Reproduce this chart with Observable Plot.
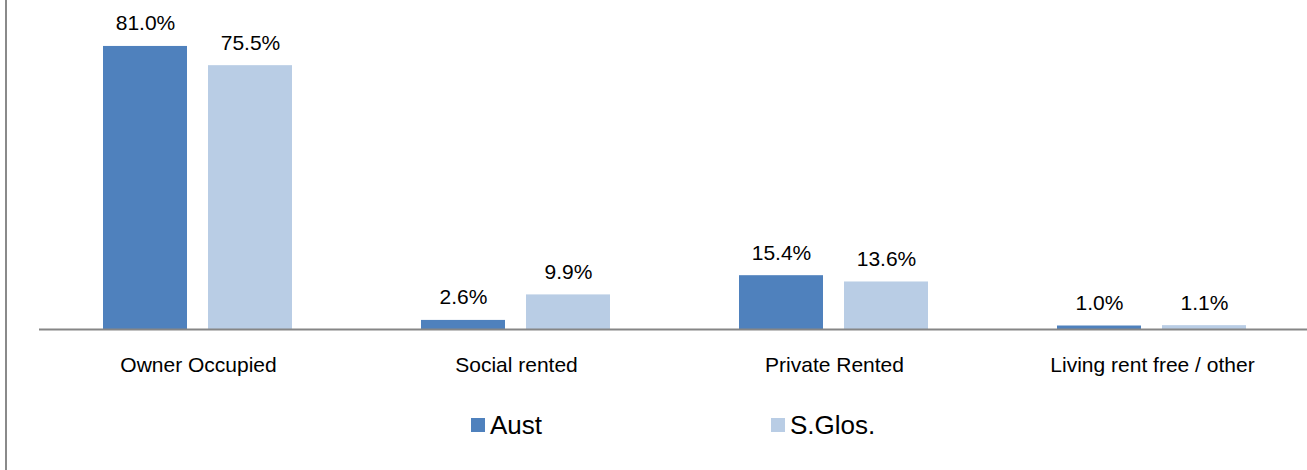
<!DOCTYPE html>
<html>
<head>
<meta charset="utf-8">
<script src="https://cdn.jsdelivr.net/npm/d3@7"></script>
<script src="https://cdn.jsdelivr.net/npm/@observablehq/plot@0.6"></script>
<style>
  html, body { margin: 0; padding: 0; background: #fff; overflow: hidden; }
  #wrap { position: relative; width: 1307px; height: 470px; overflow: hidden; font-family: "Liberation Sans", Arial, sans-serif; }
  #border { position: absolute; left: 5px; top: 0; width: 2px; height: 470px; background: #8a8a8a; }
  #chart { position: absolute; left: 0; top: 0; width: 1312px; }
  #chart svg { max-width: none !important; }
  .lg-sw { position: absolute; width: 14px; height: 14px; top: 418px; }
  .lg-tx { position: absolute; top: 412px; font-size: 26px; line-height: 26px; color: #000; white-space: nowrap; }
</style>
</head>
<body>
<div id="wrap"><div id="chart"></div><div id="border"></div></div>
<script>
const categories = ["Owner Occupied", "Social rented", "Private Rented", "Living rent free / other"];
const series = ["Aust", "S.Glos."];
const aust = [81.0, 2.6, 15.4, 1.0];
const sglos = [75.5, 9.9, 13.6, 1.1];
const colors = ["#4F81BD", "#B9CDE5"];

const seriesValues = [aust, sglos];
const data = [];
categories.forEach((c, i) => {
  series.forEach((s, j) => data.push({category: c, series: s, value: seriesValues[j][i]}));
});

const fmt = d3.format(".1f");

const chart = Plot.plot({
  width: 1312,
  height: 395,
  marginLeft: 37,
  marginRight: 0,
  marginTop: 14.5,
  marginBottom: 66,
  style: {fontFamily: "'Liberation Sans', Arial, sans-serif", fontSize: "21px", color: "#000", background: "transparent", overflow: "visible", maxWidth: "none"},
  fx: {domain: categories, paddingInner: 0, paddingOuter: 0, label: null},
  x: {domain: series, paddingInner: 0.1981, paddingOuter: 0.6026, axis: null},
  y: {domain: [0, 90], axis: null},
  color: {domain: series, range: colors},
  marks: [
    Plot.barY(data, {fx: "category", x: "series", y: "value", fill: "series"}),
    Plot.ruleY([0], {stroke: "#868686", strokeWidth: 2}),
    Plot.text(data, {fx: "category", x: "series", y: "value", text: d => fmt(d.value) + "%", lineAnchor: "bottom", dy: -16, fontSize: 21, fill: "#000"}),
    Plot.axisFx({anchor: "bottom", tickSize: 0, tickPadding: 28, fontSize: 21, label: null, fill: "#000"})
  ]
});
document.getElementById("chart").appendChild(chart);

// legend built from series + colors
const wrap = d3.select("#wrap");
const lgX = [471, 771];
series.forEach((s, j) => {
  wrap.append("div").attr("class", "lg-sw").style("left", lgX[j] + "px").style("background", colors[j]);
  wrap.append("div").attr("class", "lg-tx").style("left", (lgX[j] + 19) + "px").text(s);
});
</script>
</body>
</html>
